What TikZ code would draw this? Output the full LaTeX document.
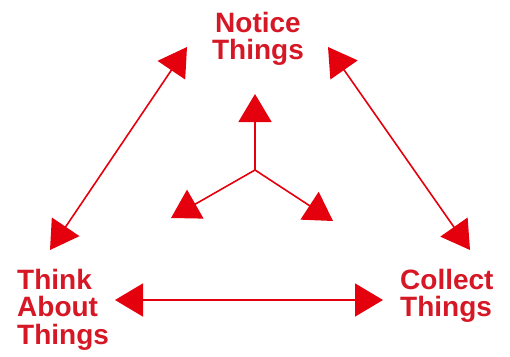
\documentclass[tikz,border=0pt]{standalone}
\usepackage{fontspec}
\setmainfont{Liberation Sans}
\usetikzlibrary{arrows.meta,positioning}

\definecolor{cycred}{RGB}{228,0,12}
\definecolor{labred}{RGB}{214,24,38}

\begin{document}
\begin{tikzpicture}[
    x=1pt, y=-1pt,
    stage/.style={inner sep=0pt, text=labred, font=\bfseries\fontsize{28}{27.5}\selectfont},
    link/.style={{Triangle[length=28pt,width=33pt]}-{Triangle[length=28pt,width=33pt]}, cycred, line width=1.6pt},
    spoke/.style={-{Triangle[length=28pt,width=33pt]}, cycred, line width=1.6pt}
]
\useasboundingbox (0,0) rectangle (510,356);

% the three stages
\node[stage, anchor=north, align=center] (notice) at (258,12) {Notice\\Things};
\node[stage, anchor=north west, align=left] (think) at (17,269) {Think\\About\\Things};
\node[stage, anchor=north west, align=left] (collect) at (400,269) {Collect\\Things};

% arrow ends
\coordinate (notice-l) at (187,47);
\coordinate (notice-r) at (328,47);
\coordinate (think-t) at (50,250);
\coordinate (think-r) at (115,300);
\coordinate (collect-t) at (470,250);
\coordinate (collect-l) at (383,300);

\draw[link] (notice-l) -- (think-t);
\draw[link] (notice-r) -- (collect-t);
\draw[link] (think-r) -- (collect-l);

% centre
\coordinate (hub) at (255,170);
\coordinate (hub-n) at (255,94);
\coordinate (hub-sw) at (171,218);
\coordinate (hub-se) at (333,221);
\draw[spoke] (hub) -- (hub-n);
\draw[spoke] (hub) -- (hub-sw);
\draw[spoke] (hub) -- (hub-se);
\end{tikzpicture}
\end{document}
